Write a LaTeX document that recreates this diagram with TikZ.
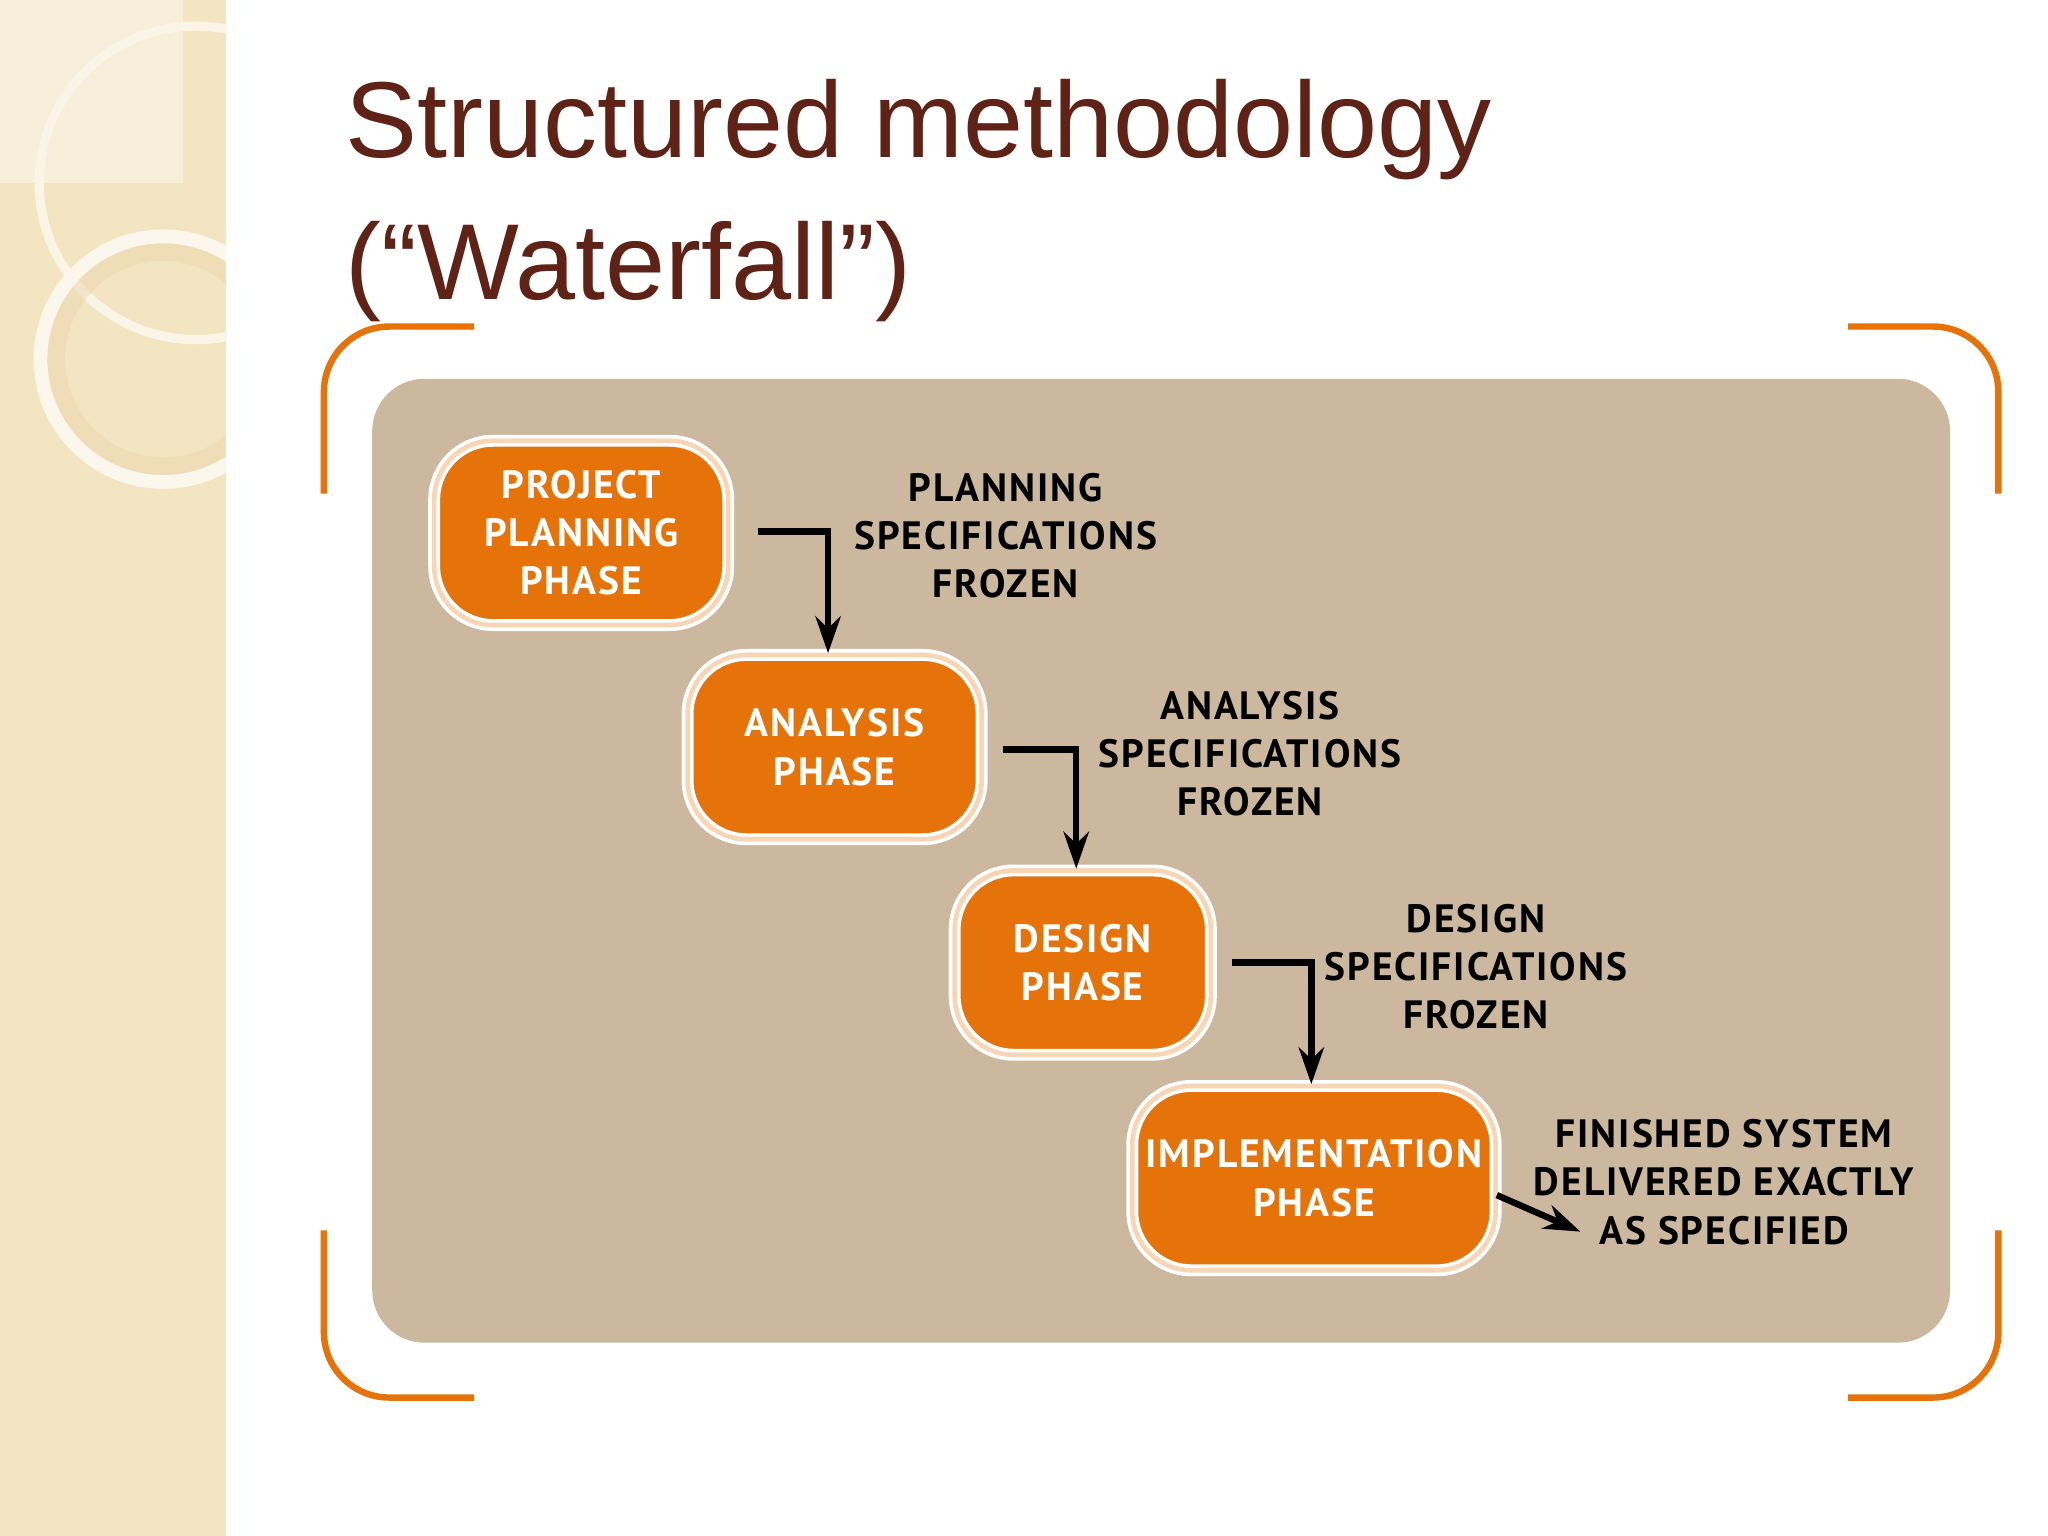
\documentclass[tikz,border=0pt]{standalone}
\usepackage{fontspec}
\setmainfont{Liberation Sans}
\newfontfamily\lbl[LetterSpace=5]{PT Sans}
\usetikzlibrary{arrows.meta}
\definecolor{titlec}{HTML}{5E2217}
\definecolor{orng}{HTML}{E5730A}
\definecolor{panel}{HTML}{CBB89E}
\definecolor{strip}{HTML}{F3E5C2}
\tikzset{
 phase/.style={draw=white,double=orng!30!white,double distance=1pt,line width=0.8pt,fill=orng,rounded corners=45*0.01cm,
   text=white,font=\lbl\bfseries\fontsize{8.6}{10.5}\selectfont,align=center,inner sep=0pt},
 note/.style={text=black,font=\lbl\bfseries\fontsize{8.6}{10.5}\selectfont,align=center},
 flow/.style={line width=1.4pt,-{Stealth[length=8pt,width=5.5pt]}},
 brk/.style={orng,line width=1.4pt,rounded corners=0.5cm}
}
\begin{document}
\begin{tikzpicture}[x=0.01cm,y=-0.01cm]
\useasboundingbox (0,0) rectangle (1568,1176);
\fill[white] (0,0) rectangle (1568,1176);
\fill[strip] (0,0) rectangle (173,1176);
\begin{scope}
\clip (0,0) rectangle (173,1176);
\fill[white!40!strip] (0,0) rectangle (140,140);
\draw[white!60!strip,line width=2pt] (150,140) circle (120);
\draw[strip!85!brown,line width=5pt,opacity=0.5] (125,275) circle (84);
\draw[white!70!strip,line width=3pt] (125,275) circle (94);
\end{scope}
\node[titlec,font=\fontsize{23.5}{28}\selectfont,anchor=north west,align=left,inner sep=0pt] (title) at (264,60)
 {Structured methodology\\[3pt](“Waterfall”)};
% brackets
\draw[brk] (248,378) -- (248,250) -- (363,250);
\draw[brk] (1530,378) -- (1530,250) -- (1415,250);
\draw[brk] (248,942) -- (248,1070) -- (363,1070);
\draw[brk] (1530,942) -- (1530,1070) -- (1415,1070);
\fill[panel,rounded corners=0.4cm] (285,290) rectangle (1493,1028);
% nodes
\node[phase,minimum width=2.25cm,minimum height=1.41cm] (p1) at (445,408) {PROJECT\\PLANNING\\PHASE};
\node[phase,minimum width=2.25cm,minimum height=1.41cm] (p2) at (639,572) {ANALYSIS\\PHASE};
\node[phase,minimum width=1.96cm,minimum height=1.41cm] (p3) at (829,737) {DESIGN\\PHASE};
\node[phase,minimum width=2.78cm,minimum height=1.41cm] (p4) at (1006,902) {IMPLEMENTATION\\PHASE};
\node[note] (n1) at (770,410) {PLANNING\\SPECIFICATIONS\\FROZEN};
\node[note] (n2) at (957,577) {ANALYSIS\\SPECIFICATIONS\\FROZEN};
\node[note] (n3) at (1130,740) {DESIGN\\SPECIFICATIONS\\FROZEN};
\node[note] (n4) at (1320,905) {FINISHED SYSTEM\\DELIVERED EXACTLY\\AS SPECIFIED};
\coordinate (a1) at (580,407); \coordinate (a2) at (768,574);
\coordinate (a3) at (943,737); \coordinate (a4) at (1146,915);
\coordinate (e4) at (1210,943);
\draw[flow] (a1) -| (p2.north -| 634,0);
\draw[flow] (a2) -| (p3.north -| 824,0);
\draw[flow] (a3) -| (p4.north -| 1004,0);
\draw[flow] (a4) -- (e4);
\end{tikzpicture}
\end{document}
